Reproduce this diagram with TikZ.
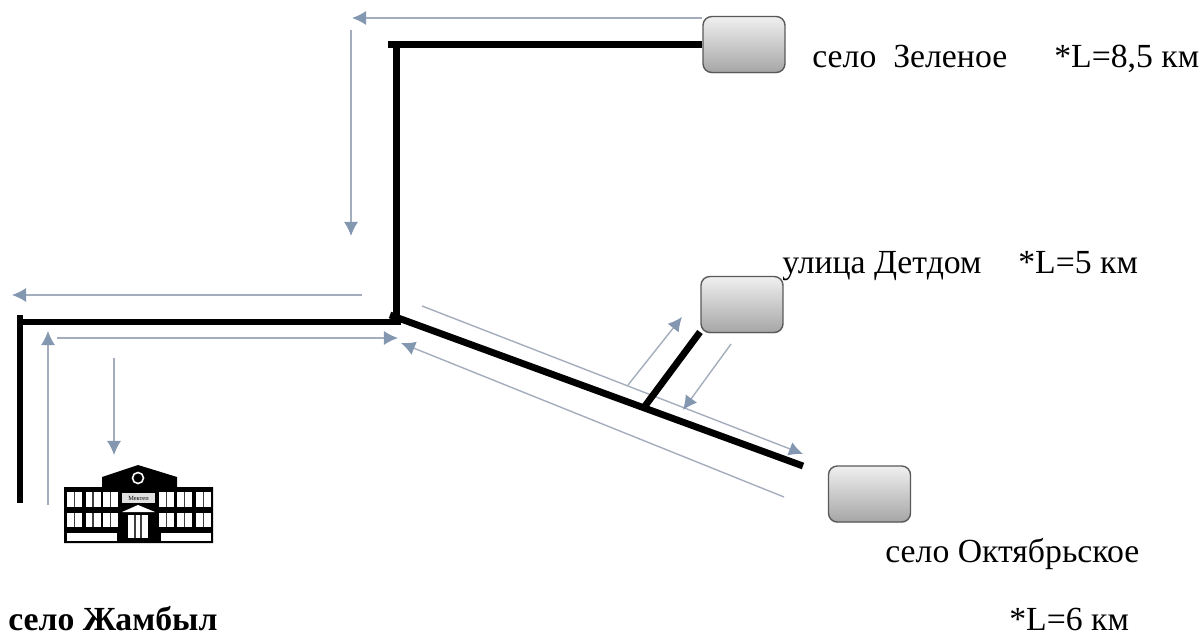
\documentclass[tikz,border=0pt]{standalone}
\usepackage{fontspec}
\setmainfont{Liberation Serif}
\usepackage{tikz}
\usetikzlibrary{arrows.meta,shadows}
\definecolor{routegray}{HTML}{8497B0}
\definecolor{routeline}{HTML}{A3ADBC}
\tikzset{
	road/.style={line width=3.9pt,black},
	route/.style={line width=0.8pt,routeline,-{Latex[length=8pt,width=8pt,routegray]}},
	village/.style={draw=black!65,line width=0.8pt,rounded corners=5pt,top color=black!6,bottom color=black!35,minimum width=1.64cm,minimum height=1.12cm,inner sep=0pt,drop shadow={shadow xshift=0pt,shadow yshift=-0.6pt,opacity=0.25}},
	label/.style={anchor=base west,inner sep=0pt,font=\fontsize{19.2}{22}\selectfont}
}
\begin{document}
\begin{tikzpicture}[x=0.02cm,y=-0.02cm]
			\useasboundingbox (0,0) rectangle (1204,635);
			\node[village] (zelenoe) at (744,44.5) {};
			\node[village] (detdom) at (742,304.5) {};
			\node[village] (oktyabr) at (869.5,494) {};

			\coordinate (topleft) at (388,44.5);
			\coordinate (topcorner) at (396.5,44.5);
			\coordinate (junction) at (396.5,318);
			\coordinate (westtop) at (20,315);
			\coordinate (westend) at (20,503);
			\coordinate (westrow) at (20,322);
			\coordinate (eastrow) at (401,322);
			\coordinate (diagstart) at (390,315);
			\coordinate (eastend) at (803,466);
			\coordinate (fork) at (645,406);
			\coordinate (forkend) at (700,332);

			\foreach \n/\xa/\ya/\xb/\yb in {a/702/18/352/18, b/351/30/351/236, c/362/295/12/295, d/48/505/48/331, e/57/338/398/338, f/114/358/114/455, g/422/306/803/454, h/784/497/401/343, i/628/385/682/317, j/731/344/683/410} {
				\coordinate (\n start) at (\xa,\ya);
				\coordinate (\n end) at (\xb,\yb);
				\draw[route] (\n start) -- (\n end);
			}

			\draw[road] (topleft) -- (zelenoe.west);
			\draw[road] (topcorner) -- (junction);
			\draw[road] (westtop) -- (westend);
			\draw[road] (westrow) -- (eastrow);
			\draw[road] (diagstart) -- (eastend);
			\draw[road] (fork) -- (forkend);

			\fill[black] (64,487) -- (102,487) -- (102,477) -- (138,465) -- (177,477) -- (177,487) -- (213,487) -- (213,543) -- (64,543) -- cycle;
			\draw[white,line width=0.9pt] (138,478) circle (5.5);
			\foreach \x in {67,85.5,103,159,177,196} {
				\fill[white] (\x,492) rectangle +(15,15);
				\fill[white] (\x,513) rectangle +(15,14);
				\draw[black!75,line width=0.7pt] (\x+7.5,492) -- +(0,15);
				\draw[black!75,line width=0.7pt] (\x+7.5,513) -- +(0,14);
			}
			\fill[white] (67,533) rectangle (117,541);
			\fill[white] (161,533) rectangle (211,541);
			\fill[black!12] (122,493) rectangle (155,503);
			\node[inner sep=0pt,font=\fontsize{3.6}{4}\selectfont] (sign) at (138.5,498) {Мектеп};
			\fill[white] (122,512) -- (138,505) -- (155,512) -- cycle;
			\fill[white] (128,515) rectangle (148,538);
			\draw[black!75,line width=0.7pt] (135,515) -- (135,538);
			\draw[black!75,line width=0.7pt] (141,515) -- (141,538);

			\node[label] (zelenoetext) at (812,68) {село\ \ Зеленое};
			\node[label] (zelenoelen) at (1054,68) {*L=8,5 км};
			\node[label] (detdomtext) at (782,273) {улица Детдом};
			\node[label] (detdomlen) at (1018,273) {*L=5 км};
			\node[label] (oktyabrtext) at (885,562) {село Октябрьское};
			\node[label] (oktyabrlen) at (1009,630) {*L=6 км};
			\node[label,font=\fontsize{19.2}{22}\selectfont\bfseries] (zhambyl) at (8,630) {село Жамбыл};
		\end{tikzpicture}
\end{document}
